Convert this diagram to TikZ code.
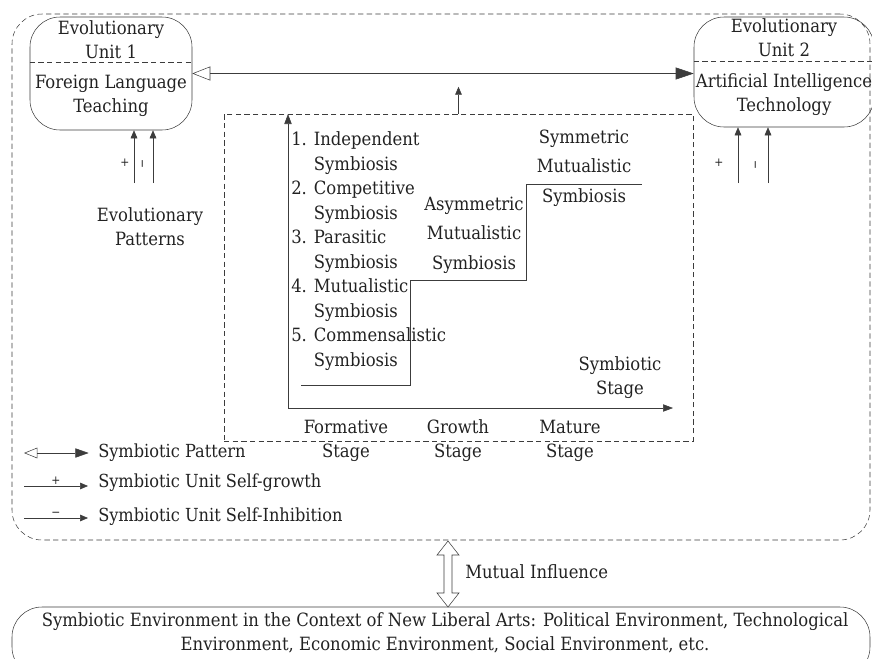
\documentclass[tikz,border=0pt]{standalone}
\usepackage{fontspec}
\setmainfont{DejaVu Serif Condensed}
\usetikzlibrary{positioning,arrows.meta,calc}
\definecolor{linegray}{HTML}{3C3C3C}
\definecolor{textgray}{HTML}{222222}
\tikzset{%
lbl/.style={text=textgray,font=\fontsize{13.7}{18}\selectfont,align=center,inner sep=0},
midlbl/.style={lbl,font=\fontsize{13.7}{22}\selectfont},
steplist/.style={lbl,align=left,font=\fontsize{13.7}{18.4}\selectfont},
legtxt/.style={lbl,anchor=west,font=\fontsize{13.5}{15}\selectfont},
signlbl/.style={text=textgray,font=\fontsize{9}{10}\selectfont,inner sep=0},
dashes/.style={dash pattern=on 4pt off 2.5pt},
unitbox/.style={draw=linegray,rounded corners=22.5pt,minimum width=121.5pt,minimum height=84.75pt,inner sep=0},
sysbox/.style={draw=linegray,dashes,rounded corners=22.5pt,inner sep=0},
envbox/.style={draw=linegray,rounded corners=22.5pt,inner sep=0},
stagebox/.style={draw=linegray,dashes,inner sep=0},
divider/.style={draw=linegray,dashes},
stairline/.style={draw=linegray},
symarrow/.style={draw=linegray,{Triangle[open,length=13.5pt,width=10.5pt]}-{Triangle[length=13.5pt,width=9pt]}},
symarrowsmall/.style={draw=linegray,{Triangle[open,length=10pt,width=8pt]}-{Triangle[length=10pt,width=7pt]}},
selfarrow/.style={draw=linegray,-{Triangle[length=6pt,width=5pt]}},
axisarrow/.style={draw=linegray,-{Triangle[length=7.5pt,width=5.5pt]}}
}
\begin{document}
\begin{tikzpicture}[x=0.75pt,y=-0.75pt]
\useasboundingbox (0,0) rectangle (872,658);

\node[sysbox,minimum width=643.5pt,minimum height=394.5pt] (sys) at (441,277) {};
\node[envbox,minimum width=643.5pt,minimum height=52.5pt] (env) at (441,642) {};

\node[unitbox] (u1) at (111,73.5) {};
\node[unitbox,minimum width=135pt,minimum height=82.5pt] (u2) at (784,72) {};
\draw[divider] (u1.west |- 0,62) -- (u1.east |- 0,62);
\draw[divider] (u2.west |- 0,61) -- (u2.east |- 0,61);
\node[lbl] (u1title) at (111,40) {Evolutionary\\Unit 1};
\node[lbl] (u1name) at (111,96) {Foreign Language\\Teaching};
\node[lbl] (u2title) at (784,38) {Evolutionary\\Unit 2};
\node[lbl] (u2name) at (784,95) {Artificial Intelligence\\Technology};

\draw[symarrow] (u1.east) -- (u1.east -| u2.west);

\node[stagebox,minimum width=351.75pt,minimum height=245.25pt] (stg) at (458.5,277.5) {};
\draw[selfarrow] (stg.north) -- ++(0,-27);

\coordinate (o) at (288,408);
\coordinate (ytip) at (288,114);
\coordinate (xtip) at (673,408);
\draw[axisarrow] (o) -- (ytip);
\draw[axisarrow] (o) -- (xtip);
\draw[stairline] (301,385) -- (410,385) -- (410,280) -- (526,280) -- (526,184) -- (642,184);

\node[steplist,anchor=west] (kinds) at (291,251) {1. Independent\\\phantom{1. }Symbiosis\\2. Competitive\\\phantom{2. }Symbiosis\\3. Parasitic\\\phantom{3. }Symbiosis\\4. Mutualistic\\\phantom{4. }Symbiosis\\5. Commensalistic\\\phantom{5. }Symbiosis};
\node[midlbl] (asym) at (474,235) {Asymmetric\\Mutualistic\\Symbiosis};
\node[midlbl] (sym) at (584,168) {Symmetric\\Mutualistic\\Symbiosis};
\node[lbl] (xlabel) at (620,378) {Symbiotic\\Stage};
\node[lbl] (form) at (346,441) {Formative\\Stage};
\node[lbl] (grw) at (458,441) {Growth\\Stage};
\node[lbl] (mat) at (570,441) {Mature\\Stage};

\coordinate (p1) at (134,183);
\coordinate (m1) at (153,183);
\draw[selfarrow] (p1) -- (p1 |- u1.south);
\draw[selfarrow] (m1) -- (m1 |- u1.south);
\node[signlbl] at (125,163) {+};
\node[signlbl,rotate=90] at (144,164) {−};
\coordinate (p2) at (738,183);
\coordinate (m2) at (768,183);
\draw[selfarrow] (p2) -- (p2 |- u2.south);
\draw[selfarrow] (m2) -- (m2 |- u2.south);
\node[signlbl] at (719,163) {+};
\node[signlbl,rotate=90] at (757,165) {−};
\node[lbl] (pat) at (150,227) {Evolutionary\\Patterns};

\node[legtxt] (lt1) at (98,453) {Symbiotic Pattern};
\node[legtxt] (lt2) at (98,483) {Symbiotic Unit Self-growth};
\node[legtxt] (lt3) at (98,517) {Symbiotic Unit Self-Inhibition};
\coordinate (lg1) at (24,453);
\coordinate (lg2) at (24,486);
\coordinate (lg3) at (24,518);
\draw[symarrowsmall] (lg1) -- ([xshift=-7pt]lt1.west);
\draw[selfarrow] (lg2) -- ([xshift=-7.5pt]lg2 -| lt2.west) node[signlbl,midway,above=1pt] {+};
\draw[selfarrow] (lg3) -- ([xshift=-7.5pt]lg3 -| lt3.west) node[signlbl,midway,above=1pt] {−};

\coordinate (mi) at (448,574);
\begin{scope}[shift={(mi)}]
\draw[stairline] (0,-33) -- (11,-19) -- (4,-19) -- (4,19) -- (11,19) -- (0,33) -- (-11,19) -- (-4,19) -- (-4,-19) -- (-11,-19) -- cycle;
\end{scope}
\node[lbl,anchor=west] (mitxt) at (465,572) {Mutual Influence};

\node[lbl] (envtxt) at (445,633) {Symbiotic Environment in the Context of New Liberal Arts: Political Environment, Technological\\Environment, Economic Environment, Social Environment, etc.};
\end{tikzpicture}
\end{document}
